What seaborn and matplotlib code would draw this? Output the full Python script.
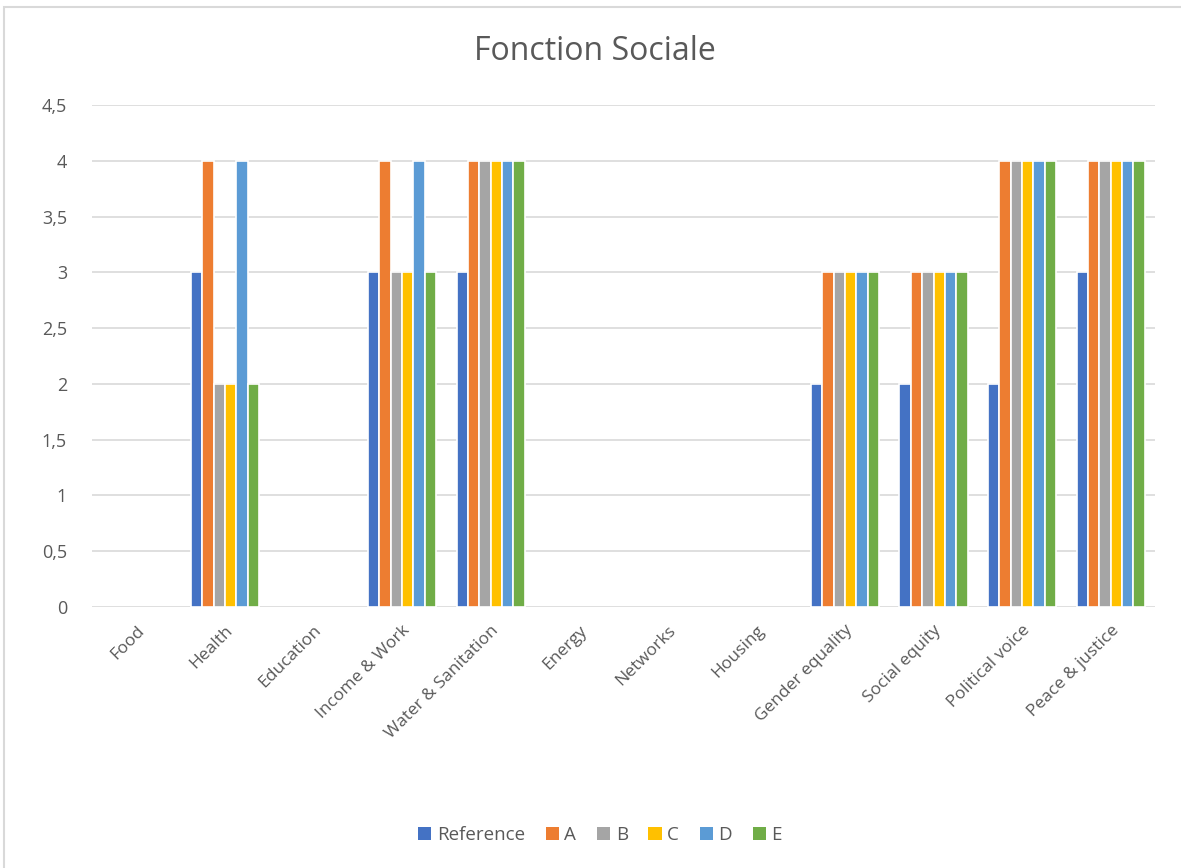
import numpy as np
import pandas as pd
import matplotlib
matplotlib.use("Agg")
import matplotlib.pyplot as plt
import seaborn as sns
from matplotlib.patches import Rectangle, Patch
from matplotlib.ticker import FuncFormatter

categories = ["Food", "Health", "Education", "Income & Work", "Water & Sanitation",
              "Energy", "Networks", "Housing", "Gender equality", "Social equity",
              "Political voice", "Peace & justice"]
series = ["Reference", "A", "B", "C", "D", "E"]
reference = [0, 3, 0, 3, 3, 0, 0, 0, 2, 2, 2, 3]
a_vals = [0, 4, 0, 4, 4, 0, 0, 0, 3, 3, 4, 4]
b_vals = [0, 2, 0, 3, 4, 0, 0, 0, 3, 3, 4, 4]
c_vals = [0, 2, 0, 3, 4, 0, 0, 0, 3, 3, 4, 4]
d_vals = [0, 4, 0, 4, 4, 0, 0, 0, 3, 3, 4, 4]
e_vals = [0, 2, 0, 3, 4, 0, 0, 0, 3, 3, 4, 4]
colors = ["#4472C4", "#ED7D31", "#A5A5A5", "#FFC000", "#5B9BD5", "#70AD47"]

df = pd.DataFrame({"Reference": reference, "A": a_vals, "B": b_vals,
                   "C": c_vals, "D": d_vals, "E": e_vals}, index=categories)
long = df.reset_index().melt(id_vars="index", var_name="serie", value_name="val")

sns.set_style("white")
plt.rcParams["font.family"] = ["Open Sans", "DejaVu Sans"]

fig = plt.figure(figsize=(11.81, 8.68), dpi=100)
ax = fig.add_axes([92 / 1181, 1 - 607 / 868, (1155 - 92) / 1181, (607 - 105) / 868])

sns.barplot(data=long, x="index", y="val", hue="serie", hue_order=series,
            palette=colors, width=0.77, saturation=1, edgecolor="white",
            linewidth=1.2, ax=ax, legend=False)

# empty bars should not hide the baseline
for p in ax.patches:
    if p.get_height() == 0:
        p.set_visible(False)

ax.set_ylim(0, 4.5)
ax.set_xlim(-0.5, len(categories) - 0.5)
ax.set_yticks(np.arange(0, 4.51, 0.5))
ax.yaxis.set_major_formatter(FuncFormatter(lambda v, p: f"{v:g}".replace(".", ",")))
ax.grid(axis="y", color="#D9D9D9", linewidth=1.2)
ax.set_axisbelow(True)
for s in ax.spines.values():
    s.set_visible(False)
ax.tick_params(axis="y", length=0, labelsize=13, colors="#595959", pad=18)
ax.tick_params(axis="x", length=0, labelsize=12.5, colors="#595959", pad=11)
ax.set_xticks(range(len(categories)))
ax.set_xticklabels(categories, rotation=45, ha="right", rotation_mode="anchor")
ax.set_xlabel("")
ax.set_ylabel("")

fig.text(595 / 1181, 1 - 52 / 868, "Fonction Sociale", ha="center", va="center",
         fontsize=23, color="#595959")

handles = [Patch(facecolor=c, edgecolor="none", label=s) for s, c in zip(series, colors)]
ax.legend(handles=handles, loc="center", bbox_to_anchor=(0.478, -0.455),
          ncol=6, frameon=False, fontsize=13.5, handlelength=0.7, handleheight=0.7,
          handletextpad=0.3, columnspacing=1.1, labelcolor="#595959")

fig.patches.append(Rectangle((4 / 1181, -0.01), 1.5, 1 - 7 / 868 + 0.01,
                             transform=fig.transFigure, fill=False,
                             edgecolor="#D9D9D9", linewidth=1.5))

fig.savefig("out.png", dpi=100)
